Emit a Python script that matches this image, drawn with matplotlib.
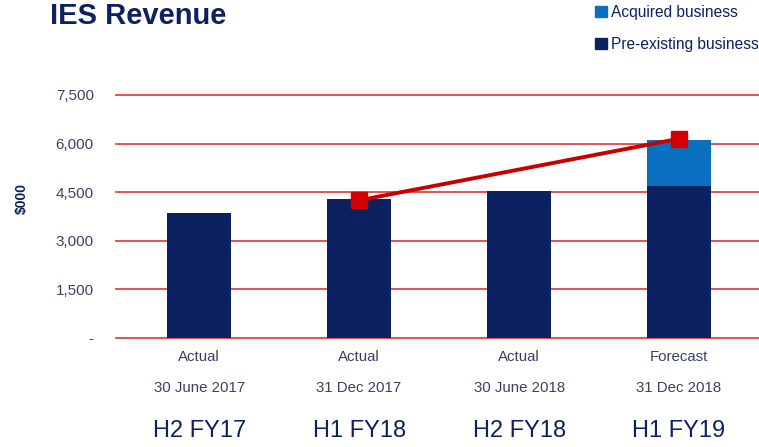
import numpy as np
import matplotlib.pyplot as plt
from matplotlib.patches import Patch

plt.rcParams['font.family'] = ['Liberation Sans', 'DejaVu Sans']

# datos
periodos = ['H2 FY17', 'H1 FY18', 'H2 FY18', 'H1 FY19']
estado = ['Actual', 'Actual', 'Actual', 'Forecast']
fechas = ['30 June 2017', '31 Dec 2017', '30 June 2018', '31 Dec 2018']
preexistente = [3850, 4290, 4530, 4700]
adquirido = [0, 0, 0, 1400]
linea_x = [1, 3]
linea_y = [4250, 6150]

navy = '#0B2160'
azul = '#0A70C0'
rojo = '#C80000'
texto = '#3A4260'

fig = plt.figure(figsize=(7.59, 4.47), dpi=100)
ax = fig.add_axes([116/759, 1-338/447, 1-116/759, (338-95)/447])

x = np.arange(len(periodos))
ax.bar(x, preexistente, width=0.4, color=navy, zorder=3)
ax.bar(x, adquirido, width=0.4, bottom=preexistente, color=azul, zorder=3)
ax.plot(linea_x, linea_y, color=rojo, linewidth=2.8, marker='s', markersize=11,
        markerfacecolor='#D40000', markeredgecolor='#D40000', zorder=4)

ax.set_ylim(0, 7500)
ax.set_xlim(-0.52, 3.5)
yt = [0, 1500, 3000, 4500, 6000, 7500]
ax.set_yticks(yt)
ax.set_yticklabels(['-'] + [f'{v:,}' for v in yt[1:]], color=texto, fontsize=11)
ax.tick_params(axis='y', length=0, pad=16)
ax.set_xticks([])
ax.grid(axis='y', color='#E03434', linewidth=1.2, zorder=1)
for gl in ax.get_ygridlines():
    gl.set_clip_on(False)
for s in ax.spines.values():
    s.set_visible(False)

for i in range(len(periodos)):
    ax.annotate(estado[i], (x[i], 0), xycoords=('data', 'axes fraction'),
                xytext=(0, -14), textcoords='offset points', ha='center', va='center',
                fontsize=10.8, color=texto)
    ax.annotate(fechas[i], (x[i], 0), xycoords=('data', 'axes fraction'),
                xytext=(0, -36), textcoords='offset points', ha='center', va='center',
                fontsize=10.8, color=texto)
    ax.annotate(periodos[i], (x[i], 0), xycoords=('data', 'axes fraction'),
                xytext=(0, -67), textcoords='offset points', ha='center', va='center',
                fontsize=17, color=navy)

fig.text(22/759, 1-198/447, '$000', rotation=90, ha='center', va='center',
         fontsize=10, color=navy, fontweight='bold')
fig.text(50/759, 1-16/447, 'IES Revenue', ha='left', va='center',
         fontsize=21, color=navy, fontweight='bold')

handles = [Patch(color=azul, label='Acquired business'),
           Patch(color=navy, label='Pre-existing business')]
fig.legend(handles=handles, loc='upper left', bbox_to_anchor=(581/759, 1.02),
           frameon=False, fontsize=11.2, labelcolor=navy, handlelength=0.75,
           handleheight=0.75, handletextpad=0.3, labelspacing=1.1)

fig.savefig('out.png', dpi=100)
